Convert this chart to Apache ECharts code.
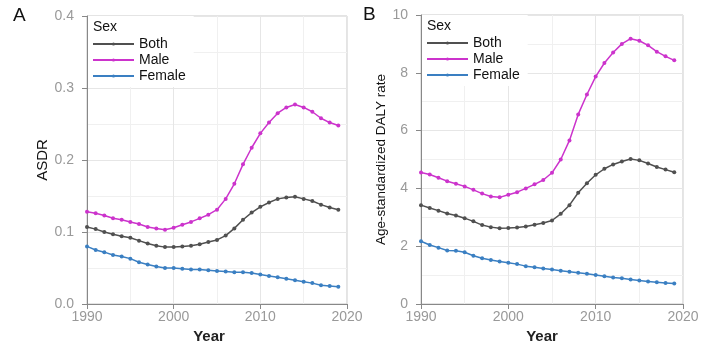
<!DOCTYPE html>
<html>
<head>
<meta charset="utf-8">
<script src="https://cdn.jsdelivr.net/npm/echarts@6/dist/echarts.min.js"></script>
<style>
  html, body { margin: 0; padding: 0; background: #fff; }
  #main { width: 708px; height: 362px; }
</style>
</head>
<body>
<div id="main"></div>
<script>
var years = [];
for (var y = 1990; y <= 2019; y++) years.push(y);

// Panel A: ASDR
var asdrBoth = [0.107, 0.104, 0.100, 0.097, 0.094, 0.092, 0.088, 0.084, 0.081, 0.079,
  0.079, 0.080, 0.081, 0.083, 0.086, 0.089, 0.095, 0.105, 0.117, 0.127,
  0.135, 0.141, 0.146, 0.148, 0.149, 0.146, 0.143, 0.138, 0.134, 0.131];
var asdrMale = [0.128, 0.126, 0.123, 0.119, 0.117, 0.114, 0.111, 0.107, 0.105, 0.103,
  0.106, 0.110, 0.114, 0.119, 0.124, 0.131, 0.146, 0.167, 0.194, 0.217,
  0.237, 0.252, 0.265, 0.273, 0.277, 0.273, 0.267, 0.258, 0.252, 0.248];
var asdrFemale = [0.080, 0.075, 0.072, 0.068, 0.066, 0.063, 0.058, 0.055, 0.052, 0.050,
  0.050, 0.049, 0.048, 0.048, 0.047, 0.046, 0.045, 0.044, 0.044, 0.043,
  0.041, 0.039, 0.037, 0.035, 0.033, 0.031, 0.029, 0.026, 0.025, 0.024];

// Panel B: age-standardized DALY rate
var dalyBoth = [3.42, 3.32, 3.23, 3.13, 3.06, 2.97, 2.86, 2.73, 2.66, 2.62,
  2.63, 2.65, 2.68, 2.74, 2.80, 2.89, 3.12, 3.42, 3.85, 4.18,
  4.47, 4.68, 4.83, 4.93, 5.02, 4.97, 4.86, 4.74, 4.65, 4.56];
var dalyMale = [4.55, 4.48, 4.37, 4.25, 4.16, 4.07, 3.95, 3.82, 3.72, 3.69,
  3.78, 3.87, 4.00, 4.14, 4.29, 4.54, 5.00, 5.66, 6.56, 7.25,
  7.87, 8.34, 8.70, 9.00, 9.18, 9.11, 8.95, 8.73, 8.57, 8.43];
var dalyFemale = [2.17, 2.04, 1.95, 1.85, 1.84, 1.79, 1.67, 1.58, 1.52, 1.47,
  1.43, 1.38, 1.31, 1.27, 1.23, 1.19, 1.15, 1.12, 1.08, 1.05,
  1.00, 0.96, 0.92, 0.89, 0.85, 0.81, 0.78, 0.75, 0.73, 0.71];

var sexNames = ['Both', 'Male', 'Female'];
var sexColors = ['#505050', '#cc33cc', '#3a7fc2'];

var font = 'Liberation Sans, Arial, sans-serif';

function pairs(vals) {
  return vals.map(function (v, i) { return [years[i], v]; });
}

function xAxisFor(idx, shift) {
  return {
    gridIndex: idx,
    type: 'value',
    min: 1990, max: 2020, interval: 10,
    name: 'Year',
    nameLocation: 'middle',
    nameGap: 20,
    nameTextStyle: { fontFamily: font, fontSize: 15, fontWeight: 'bold', color: '#222',
      padding: [0, shift, 0, 0] },
    axisLine: { show: true, lineStyle: { color: '#888' } },
    axisTick: { show: true, length: 5, lineStyle: { color: '#888' } },
    axisLabel: { fontFamily: font, fontSize: 14, color: '#999', margin: 6,
      formatter: function (v) { return String(v); } },
    splitLine: { show: true, lineStyle: { color: '#e6e6e6' } },
    minorTick: { show: false, splitNumber: 2 },
    minorSplitLine: { show: true, lineStyle: { color: '#f0f0f0' } }
  };
}

function yAxisFor(idx, max, interval, name, nameGap, nameSize, fmt) {
  return {
    gridIndex: idx,
    type: 'value',
    min: 0, max: max, interval: interval,
    name: name,
    nameLocation: 'middle',
    nameGap: nameGap,
    nameTextStyle: { fontFamily: font, fontSize: nameSize, color: '#111' },
    axisLine: { show: true, lineStyle: { color: '#888' } },
    axisTick: { show: true, length: 5, lineStyle: { color: '#888' } },
    axisLabel: { fontFamily: font, fontSize: 14, color: '#999', margin: 13, formatter: fmt },
    splitLine: { show: true, lineStyle: { color: '#e6e6e6' } },
    minorTick: { show: false, splitNumber: 2 },
    minorSplitLine: { show: true, lineStyle: { color: '#f0f0f0' } }
  };
}

function lineSeries(name, idx, vals, color) {
  return {
    name: name,
    type: 'line',
    xAxisIndex: idx,
    yAxisIndex: idx,
    data: pairs(vals),
    symbol: 'circle',
    symbolSize: 4,
    showSymbol: true,
    lineStyle: { width: 1.5, color: color },
    itemStyle: { color: color },
    emphasis: { disabled: true },
    z: 3
  };
}

function legendFor(left, top) {
  return {
    data: sexNames,
    orient: 'vertical',
    left: left,
    top: top,
    itemWidth: 41,
    itemHeight: 4,
    itemGap: 0,
    padding: [20, 8, 3, 4],
    backgroundColor: '#fff',
    textStyle: { fontFamily: font, fontSize: 14, color: '#111', lineHeight: 16 },
    selectedMode: false,
    z: 5
  };
}

var myChart = echarts.init(document.getElementById('main'));

var option = {
  backgroundColor: '#fff',
  animation: false,
  color: sexColors,
  grid: [
    { left: 87, top: 16, width: 260, height: 288, show: true, borderColor: '#c8c8c8', borderWidth: 1 },
    { left: 421, top: 15, width: 262, height: 289, show: true, borderColor: '#c8c8c8', borderWidth: 1 }
  ],
  xAxis: [xAxisFor(0, 16), xAxisFor(1, 20)],
  yAxis: [
    yAxisFor(0, 0.4, 0.1, 'ASDR', 36, 15, function (v) { return v.toFixed(1); }),
    yAxisFor(1, 10, 2, 'Age-standardized DALY rate', 24, 13.5, function (v) { return String(v); })
  ],
  legend: [legendFor(88, 16), legendFor(422, 15)],
  series: [
    lineSeries('Both', 0, asdrBoth, sexColors[0]),
    lineSeries('Male', 0, asdrMale, sexColors[1]),
    lineSeries('Female', 0, asdrFemale, sexColors[2]),
    lineSeries('Both', 1, dalyBoth, sexColors[0]),
    lineSeries('Male', 1, dalyMale, sexColors[1]),
    lineSeries('Female', 1, dalyFemale, sexColors[2])
  ],
  graphic: [
    { type: 'text', left: 13, top: 6, z: 100,
      style: { text: 'A', fontFamily: font, fontSize: 19, fill: '#111' } },
    { type: 'text', left: 363, top: 5, z: 100,
      style: { text: 'B', fontFamily: font, fontSize: 19, fill: '#111' } },
    { type: 'text', left: 93, top: 20, z: 100,
      style: { text: 'Sex', fontFamily: font, fontSize: 14, fill: '#111' } },
    { type: 'text', left: 427, top: 19, z: 100,
      style: { text: 'Sex', fontFamily: font, fontSize: 14, fill: '#111' } }
  ]
};

myChart.setOption(option);
</script>
</body>
</html>
